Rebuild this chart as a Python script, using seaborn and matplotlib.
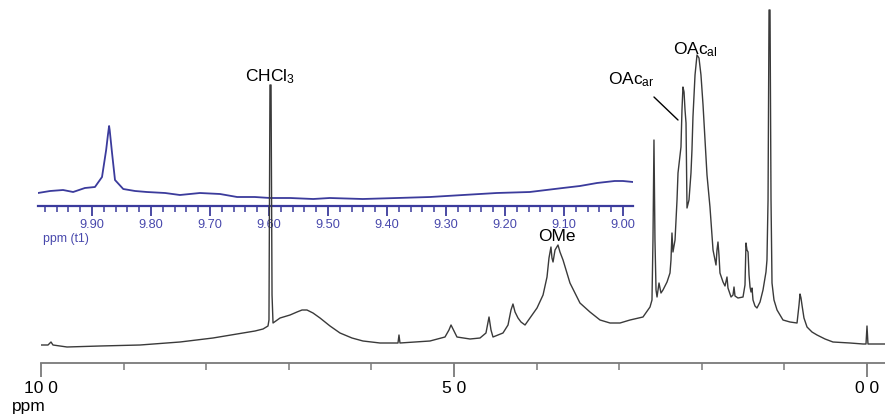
import pandas as pd
import matplotlib.pyplot as plt
import matplotlib.ticker as mticker
import seaborn as sns

# main 1H spectrum (ppm, intensity)
main_ppm = [10.000, 9.915, 9.879, 9.855, 9.685, 9.286, 8.801, 8.317, 7.918, 7.554,
            7.409, 7.312, 7.252, 7.240, 7.228, 7.215, 7.203, 7.191, 7.106, 6.985,
            6.901, 6.840, 6.780, 6.707, 6.622, 6.501, 6.380, 6.235, 6.102, 5.896, 5.678,
            5.666, 5.654, 5.291, 5.109, 5.061, 5.036, 5.000, 4.964, 4.806, 4.685,
            4.613, 4.576, 4.552, 4.528, 4.407, 4.346, 4.310, 4.286, 4.261, 4.225,
            4.189, 4.140, 4.080, 3.995, 3.922, 3.874, 3.850, 3.826, 3.814, 3.801,
            3.777, 3.741, 3.717, 3.680, 3.644, 3.596, 3.535, 3.475, 3.354, 3.232,
            3.111, 2.990, 2.869, 2.712, 2.627, 2.603, 2.591, 2.579, 2.567, 2.554,
            2.542, 2.518, 2.494, 2.470, 2.421, 2.385, 2.373, 2.361, 2.349, 2.324,
            2.300, 2.288, 2.264, 2.252, 2.240, 2.228, 2.215, 2.203, 2.191, 2.179,
            2.155, 2.131, 2.119, 2.107, 2.082, 2.058, 2.034, 2.010, 1.985, 1.961,
            1.937, 1.901, 1.864, 1.828, 1.816, 1.804, 1.792, 1.780, 1.743, 1.719,
            1.695, 1.683, 1.646, 1.622, 1.610, 1.598, 1.562, 1.501, 1.477, 1.465,
            1.453, 1.440, 1.428, 1.416, 1.404, 1.392, 1.380, 1.356, 1.332, 1.295,
            1.259, 1.223, 1.211, 1.198, 1.186, 1.174, 1.162, 1.150, 1.126, 1.089,
            1.017, 0.932, 0.847, 0.823, 0.811, 0.799, 0.787, 0.763, 0.726, 0.666,
            0.605, 0.508, 0.412, 0.206, 0.048, 0.012, 0.000, -0.012, -0.218]
main_int = [0, 0, 3, 0, -2, -1, 0, 3, 7, 12,
            14, 16, 19, 25, 260, 260, 50, 22, 27, 30,
            33, 35, 35, 32, 27, 19, 12, 7, 4, 2, 2,
            10, 2, 4, 8, 15, 20, 14, 8, 6, 7,
            12, 28, 15, 8, 12, 20, 35, 41, 33, 27,
            23, 20, 27, 37, 50, 68, 87, 98, 87, 83,
            95, 100, 93, 85, 75, 62, 52, 42, 33, 25,
            22, 22, 25, 28, 38, 45, 105, 205, 105, 55,
            48, 62, 52, 55, 63, 72, 85, 112, 93, 105,
            145, 172, 190, 198, 235, 258, 253, 235, 222, 137,
            145, 172, 195, 228, 270, 290, 287, 270, 240, 205,
            170, 138, 95, 80, 95, 103, 90, 72, 63, 59,
            68, 57, 48, 50, 58, 49, 47, 48, 60, 102,
            95, 93, 70, 58, 53, 57, 45, 39, 37, 43,
            55, 73, 85, 145, 335, 335, 145, 62, 45, 35,
            25, 23, 22, 40, 51, 47, 40, 27, 18, 13,
            10, 6, 3, 2, 1, 1, 19, 1, 1]

# expanded region 9.99 - 8.98 ppm
inset_ppm = [9.9915, 9.971, 9.949, 9.932, 9.912, 9.895, 9.883, 9.876, 9.873, 9.871,
             9.870, 9.866, 9.861, 9.847, 9.827, 9.807, 9.776, 9.751, 9.717, 9.683,
             9.654, 9.624, 9.598, 9.564, 9.525, 9.497, 9.441, 9.383, 9.327, 9.271,
             9.214, 9.158, 9.102, 9.073, 9.044, 9.014, 9.000, 8.983]
inset_int = [13, 15, 16, 14, 18, 19, 29, 56, 71, 80,
             76, 53, 26, 17, 15, 14, 13, 11, 13, 12,
             9, 9, 8, 8, 7, 8, 7, 8, 9, 11,
             13, 14, 18, 20, 23, 25, 25, 24]

main_ticks = [10, 5, 0]
main_tick_labels = ['10 0', '5 0', '0 0']

labels = ['CHCl$_3$', 'OMe', 'OAc$_{ar}$', 'OAc$_{al}$']
label_ppm = [7.228, 3.753, 3.136, 2.349]
label_int = [264, 104, 261, 291]

sns.set_style('white')
plt.rcParams['font.family'] = ['Liberation Sans', 'DejaVu Sans']
plt.rcParams['mathtext.default'] = 'regular'
plt.rcParams['text.color'] = 'black'
plt.rcParams['xtick.labelcolor'] = 'black'

W, H = 885, 419
fig = plt.figure(figsize=(W / 100, H / 100), dpi=100)

blue = '#3b3b9c'
blue_txt = '#4848ac'
gray = '#7a7a7a'

# inset first so the main trace sits on top of it
ax_in = fig.add_axes([38 / W, (H - 206) / H, (633 - 38) / W, 86 / H])
ax_in.patch.set_visible(False)
df_in = pd.DataFrame({'ppm': inset_ppm, 'int': inset_int})
sns.lineplot(data=df_in, x='ppm', y='int', ax=ax_in, color=blue, lw=1.3,
             estimator=None, sort=False)
ax_in.set_xlim(9.9915, 8.983)
ax_in.set_ylim(0, 86)
for s in ['left', 'top', 'right']:
    ax_in.spines[s].set_visible(False)
ax_in.spines['bottom'].set_color(blue)
ax_in.spines['bottom'].set_linewidth(1.6)
ax_in.xaxis.set_major_locator(mticker.MultipleLocator(0.1))
ax_in.xaxis.set_minor_locator(mticker.MultipleLocator(0.02))
ax_in.xaxis.set_major_formatter(mticker.FormatStrFormatter('%.2f'))
ax_in.tick_params(axis='x', which='major', bottom=True, length=7, width=1.3,
                  color=blue, labelcolor=blue_txt, labelsize=9.2, pad=2)
ax_in.tick_params(axis='x', which='minor', bottom=True, length=4, width=1.1, color=blue)
ax_in.set_yticks([])
ax_in.set_xlabel('')
ax_in.set_ylabel('')
fig.text(43 / W, 1 - 239 / H, 'ppm (t1)', color=blue_txt, fontsize=8.8, va='center')

# main spectrum
ax = fig.add_axes([41 / W, (H - 363) / H, (W - 41) / W, 363 / H])
ax.patch.set_visible(False)
df = pd.DataFrame({'ppm': main_ppm, 'int': main_int})
sns.lineplot(data=df, x='ppm', y='int', ax=ax, color='#3a3a3a', lw=1.0,
             estimator=None, sort=False)
ax.set_xlim(10, -0.218)
ax.set_ylim(-18, 345)
for s in ['left', 'top', 'right']:
    ax.spines[s].set_visible(False)
ax.spines['bottom'].set_color(gray)
ax.spines['bottom'].set_linewidth(1.3)
ax.set_xticks(main_ticks)
ax.set_xticklabels(main_tick_labels)
ax.xaxis.set_minor_locator(mticker.MultipleLocator(1))
ax.tick_params(axis='x', which='major', bottom=True, length=10, width=1.3,
               color=gray, labelsize=12.5, pad=3)
ax.tick_params(axis='x', which='minor', bottom=True, length=5, width=1.1, color=gray)
ax.set_yticks([])
ax.set_xlabel('')
ax.set_ylabel('')
fig.text(12 / W, (H - 411) / H, 'ppm', fontsize=12.5, va='baseline')

ax.text(label_ppm[0], label_int[0], labels[0], fontsize=12.5, ha='center', va='baseline')
ax.text(label_ppm[1], label_int[1], labels[1], fontsize=12.5, ha='center', va='baseline')
ax.text(label_ppm[2], label_int[2], labels[2], fontsize=12.5, ha='left', va='baseline')
ax.text(label_ppm[3], label_int[3], labels[3], fontsize=12.5, ha='left', va='baseline')
ax.plot([2.579, 2.288], [248, 225], color='black', lw=1.0)

fig.savefig('out.png', dpi=100)
